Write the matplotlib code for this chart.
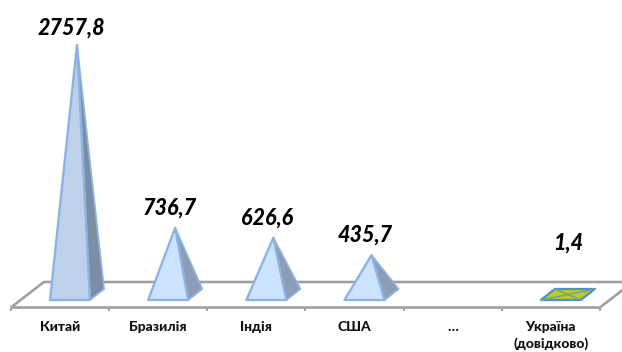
import matplotlib
matplotlib.use("Agg")
import matplotlib.pyplot as plt
from matplotlib.patches import Polygon

plt.rcParams['font.family'] = ['Lato', 'Open Sans', 'DejaVu Sans']

# === Data ===
categories = ['Китай', 'Бразилія', 'Індія', 'США', '…', 'Україна\n(довідково)']
positions = [0, 1, 2, 3, 5]
values = [2757.8, 736.7, 626.6, 435.7, 1.4]
value_labels = ['2757,8', '736,7', '626,6', '435,7', '1,4']

# === Scale of the fake 3D box (pixels of the 622x352 picture) ===
W, H = 622, 352
SLOT_PX = 98.17
FIRST_SLOT_PX = 60
ZERO_PX = 294.5      # y of value 0, counted from the top
PX_PER_UNIT = 0.0905

XU = 1 / SLOT_PX     # one pixel in x data units
YU = 1 / PX_PER_UNIT # one pixel in y data units

fig = plt.figure(figsize=(W / 100, H / 100), dpi=100)
ax = fig.add_axes([0, 0, 1, 1])
ax.set_xlim(-FIRST_SLOT_PX * XU, (W - FIRST_SLOT_PX) * XU)
ax.set_ylim((ZERO_PX - H) * YU, ZERO_PX * YU)
ax.axis('off')

EDGE = '#8db3e2'
FLOOR = '#a0a0a0'

# floor of the box
x_left = -0.5
x_right = 5.5
y_front = -13 * YU
y_back = 12.5 * YU
floor_pts = [(x_left, y_front), (x_right, y_front),
             (x_right + 33 * XU, y_back), (x_left + 33 * XU, y_back)]
ax.add_patch(Polygon(floor_pts, closed=True, fc='white', ec=FLOOR, lw=1.9, zorder=1))
for i in range(7):
    ax.plot([x_left + i, x_left + i], [y_front, y_front - 3 * YU],
            color=FLOOR, lw=1.4, zorder=1, solid_capstyle='butt')

# pyramids
half = 20 * XU
shift = 10 * XU
dx = 14 * XU
dy = 5.5 * YU
for k, (p, v) in enumerate(zip(positions, values)):
    c = p + shift
    fl = (c - half, -dy)
    fr = (c + half, -dy)
    br = (c + half + dx, dy)
    bl = (c - half + dx, dy)
    top = (c + dx / 2, v)
    if v < 10:
        # almost zero value, only the base is visible
        ax.add_patch(Polygon([fl, fr, br, bl], closed=True, fc='#c4c81a', ec='#4f8fc8',
                             lw=1.6, zorder=3, joinstyle='round'))
        ax.plot([fl[0], br[0]], [fl[1], br[1]], color='#6f9fb0', lw=1.1, zorder=4)
        ax.plot([fr[0], bl[0]], [fr[1], bl[1]], color='#6f9fb0', lw=1.1, zorder=4)
        lx, ly = 0, 51
    else:
        front = '#bdd2ea' if k == 0 else '#cce4ff'
        side = '#7d8da3' if k == 0 else '#8c9db5'
        ax.add_patch(Polygon([fr, br, top], closed=True, fc=side, ec=EDGE,
                             lw=1.3, zorder=3, joinstyle='round'))
        ax.add_patch(Polygon([fl, fr, top], closed=True, fc=front, ec=EDGE,
                             lw=1.7, zorder=4, joinstyle='round'))
        lx, ly = -6, 17 if k == 0 else 20
    ax.annotate(value_labels[k], xy=top, xytext=(lx * 0.72, ly * 0.72),
                textcoords='offset points', ha='center', va='center',
                fontsize=15.5, fontweight='black', fontstyle='italic', color='black')

# category labels
for i, name in enumerate(categories):
    ax.text(i, (ZERO_PX - 321) * YU, name, ha='center', va='top', fontsize=10,
            fontweight='black', color='#111111', linespacing=1.45)

fig.savefig('out.png', dpi=100)
